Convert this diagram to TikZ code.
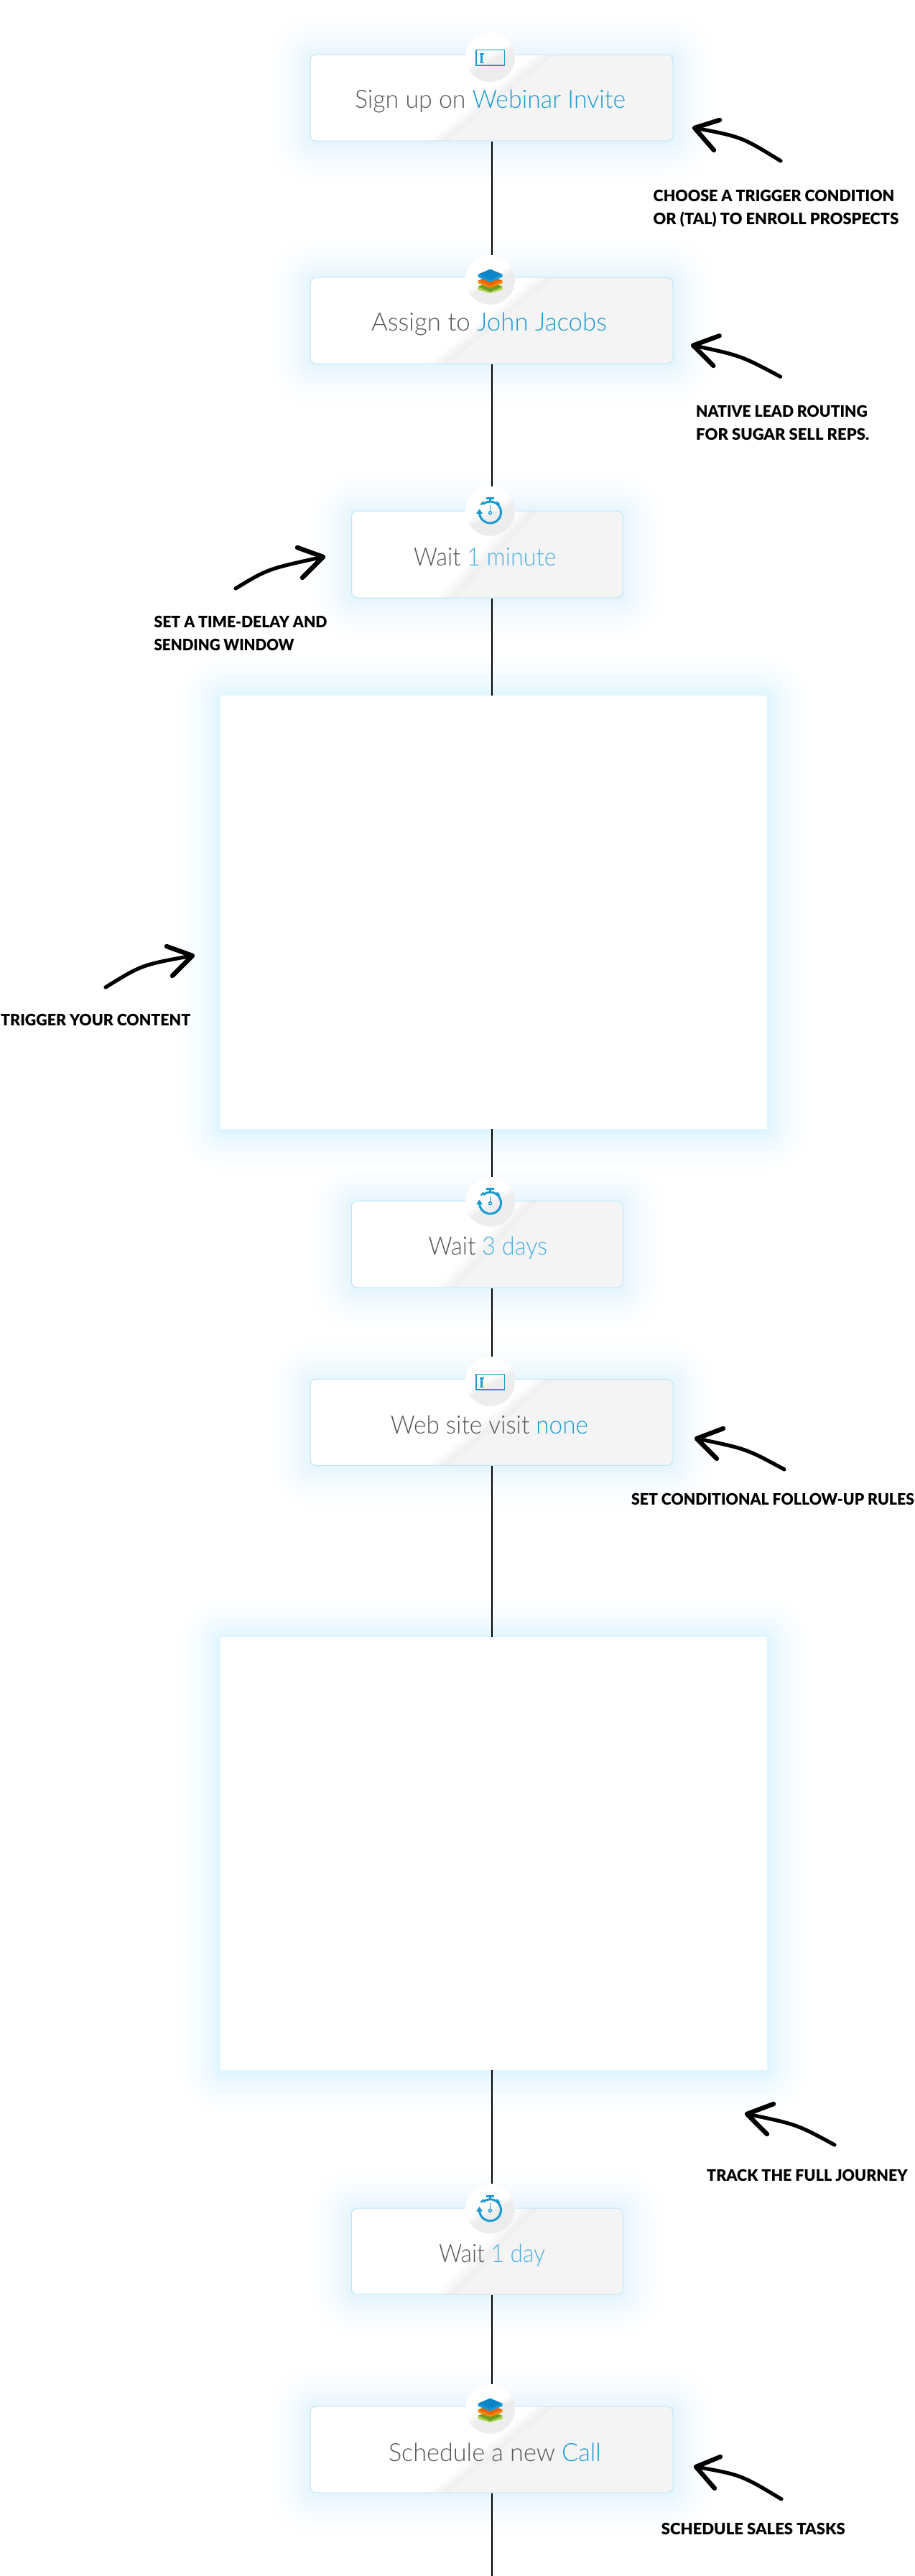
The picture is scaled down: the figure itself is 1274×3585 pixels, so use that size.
\documentclass[tikz,border=0pt]{standalone}
\usepackage{graphicx}
\usepackage{fontspec}
\newfontfamily\cardfont{Lato Light}
\newfontfamily\labelfont{Lato}[UprightFont=* Black]
\definecolor{cardline}{HTML}{BFE6F8}
\definecolor{cardgrey}{HTML}{F0F0F0}
\definecolor{discgrey}{HTML}{EDEDED}
\definecolor{cardflat}{HTML}{F4F4F4}
\definecolor{brand}{HTML}{1B9AD1}
\definecolor{softblue}{HTML}{4FB0DE}
\definecolor{ink}{HTML}{555555}
\definecolor{glowcard}{HTML}{E6F5FD}
\definecolor{glowbox}{HTML}{DFF5FF}
\definecolor{HTMLgreenA}{HTML}{6F9E20}
\definecolor{HTMLgreenB}{HTML}{A6D33A}
\definecolor{HTMLorangeA}{HTML}{E86500}
\definecolor{HTMLorangeB}{HTML}{FF8A00}
\definecolor{HTMLblueA}{HTML}{0A85C8}
\definecolor{HTMLblueB}{HTML}{0F9BE0}
\newcommand{\fitw}[2]{\resizebox{#1pt}{\height}{#2}}
\tikzset{
  x=1pt,y=-1pt,
  cardbox/.style={draw=cardline,line width=1pt,rounded corners=8pt,fill=white,inner sep=0pt,
    path picture={\begin{scope}[shift={(path picture bounding box.center)},sharp corners]
      \foreach \o/\m in {-14/15,-10/30,-6/50,-2/70,2/85,6/100}{
        \fill[cardgrey!\m!white] (\o-#1,60) -- (\o+#1,-60) -- (400,-60) -- (400,60) -- cycle;}
      \fill[cardflat] (14-#1,60) -- (14+#1,-60) -- (400,-60) -- (400,60) -- cycle;
    \end{scope}}},
  bigbox/.style={fill=white,inner sep=0pt,minimum width=761pt,minimum height=603pt},
  iconbg/.style={circle,inner sep=0pt,minimum size=69pt,fill=discgrey,
    path picture={\begin{scope}[shift={(path picture bounding box.center)}]
      \foreach \o/\m in {6/25,3/50,0/75,-3/100}{
        \fill[white!\m!discgrey] (-50,28+\o) -- (50,-28+\o) -- (50,-50) -- (-50,-50) -- cycle;}
    \end{scope}}},
  cardtext/.style={anchor=base,inner sep=0pt,text=ink,font=\cardfont\fontsize{35}{40}\selectfont},
  note/.style={anchor=base west,inner sep=0pt,text=black,font=\labelfont\fontsize{22}{26}\selectfont},
  spineline/.style={draw=black,line width=2pt},
  handstroke/.style={draw=black,line width=5.2pt,line cap=round,line join=round},
  handbarb/.style={draw=black,line width=6.4pt,line cap=round,line join=round},
  screenicon/.pic={
    \draw[brand,line width=1.9pt] (-19.5,-10) rectangle (20,11.5);
    \draw[brand,line width=2.6pt] (-12,-4.5) -- (-12,8);
    \draw[brand,line width=1.6pt] (-15,-4.5) -- (-9,-4.5) (-15,8) -- (-9,8);
  },
  stackicon/.pic={
    \fill[HTMLgreenB] (-17,10) -- (0,17.5) -- (17,10) -- (17,13.5) -- (0,18.5) -- (-17,13.5) -- cycle;
    \fill[HTMLgreenA] (-17,9.5) -- (0,2) -- (17,9.5) -- (0,17) -- cycle;
    \fill[HTMLorangeB] (-17,1) -- (0,8.5) -- (17,1) -- (17,4.5) -- (0,11) -- (-17,4.5) -- cycle;
    \fill[HTMLorangeA] (-17,1) -- (0,-6) -- (17,1) -- (0,8.5) -- cycle;
    \fill[HTMLblueB] (-17,-7.7) -- (0,0) -- (17,-7.7) -- (17,-4) -- (0,3) -- (-17,-4) -- cycle;
    \fill[HTMLblueA] (-17,-7.7) -- (0,-15) -- (17,-7.7) -- (0,0) -- cycle;
  },
  watchicon/.pic={
    \draw[brand,line width=3pt] (-15,1.7) arc[start angle=180,end angle=-130,radius=15];
    \draw[brand,line width=2.6pt] (-5.5,-17.8) -- (5.5,-17.8) (0,-17.8) -- (0,-13);
    \draw[brand,line width=2.4pt] (-13,-9) -- (-9,-13) (13,-9) -- (9,-13);
    \draw[brand,line width=1.4pt] (0,-8) -- (0,0);
    \draw[brand,line width=1.4pt] (0,2.3) circle[radius=2];
    \fill[brand] (-19.5,3.5) -- (-10.5,3.5) -- (-15,-3) -- cycle;
  },
}
\begin{document}
\begin{tikzpicture}
\useasboundingbox (0,0) rectangle (1274,3585);
\fill[white] (0,0) rectangle (1274,3585);
% glows: every level is laid over all boxes together, outermost first
\foreach \i in {1,...,40}{
  \pgfmathsetmacro{\ee}{82-2*\i}
  \pgfmathsetmacro{\pp}{100*(\i/40)^2.6}
  \foreach \xa/\ya/\xb/\yb/\cc in {432/76/937/196/glowcard,432/386/937/506/glowcard,489.5/711/867/832/glowcard,
     307/968/1068/1571/glowbox,489.5/1671.3/867.3/1792/glowcard,432/1919.3/937/2039.3/glowcard,
     307/2278/1068/2881/glowbox,489.5/3073/867/3193/glowcard,432/3349/937/3469/glowcard}{
    \fill[\cc!\pp!white,rounded corners={(\ee+6)*1pt}] (\xa-\ee,\ya-\ee+2) rectangle (\xb+\ee,\yb+\ee+2);
  }
}
% cards
\node[cardbox=74,minimum width=505pt,minimum height=120pt] (c1) at (684.5,136) {};
\node[cardbox=74,minimum width=505pt,minimum height=120pt] (c2) at (684.5,446) {};
\node[cardbox=57,minimum width=377.5pt,minimum height=121pt] (c3) at (678.25,771.5) {};
\node[bigbox] (b1) at (687.5,1269.5) {};
\node[cardbox=57,minimum width=378pt,minimum height=120.7pt] (c4) at (678.3,1731.65) {};
\node[cardbox=74,minimum width=505pt,minimum height=120pt] (c5) at (684.5,1979.3) {};
\node[bigbox] (b2) at (687.5,2579.5) {};
\node[cardbox=57,minimum width=378pt,minimum height=120pt] (c6) at (678.3,3133) {};
\node[cardbox=74,minimum width=505pt,minimum height=120pt] (c7) at (684.5,3409) {};
% icon discs
\node[iconbg] (i1) at (682.5,79.5) {};
\node[iconbg] (i2) at (682.5,389.5) {};
\node[iconbg] (i3) at (682.5,711.3) {};
\node[iconbg] (i4) at (682.5,1672.5) {};
\node[iconbg] (i5) at (682.5,1922.5) {};
\node[iconbg] (i6) at (682.5,3074) {};
\node[iconbg] (i7) at (682.5,3352.5) {};
\pic at (i1) {screenicon};
\pic at (i2) {stackicon};
\pic at (i3) {watchicon};
\pic at (i4) {watchicon};
\pic at (i5) {screenicon};
\pic at (i6) {watchicon};
\pic at (i7) {stackicon};
% connectors
\coordinate (spine) at (685,0);
\coordinate (tail) at (685,3585);
\draw[spineline] (c1.south -| spine) -- (i2.north -| spine);
\draw[spineline] (c2.south -| spine) -- (i3.north -| spine);
\draw[spineline] (c3.south -| spine) -- (b1.north -| spine);
\draw[spineline] (b1.south -| spine) -- (i4.north -| spine);
\draw[spineline] (c4.south -| spine) -- (i5.north -| spine);
\draw[spineline] (c5.south -| spine) -- (b2.north -| spine);
\draw[spineline] (b2.south -| spine) -- (i6.north -| spine);
\draw[spineline] (c6.south -| spine) -- (i7.north -| spine);
\draw[spineline] (c7.south -| spine) -- (tail);
% card texts
\node[cardtext] (t1) at (682.5,150) {\fitw{377}{Sign up on \textcolor{brand}{Webinar Invite}}};
\node[cardtext] (t2) at (681,460) {\fitw{328}{Assign to \textcolor{brand}{John Jacobs}}};
\node[cardtext] (t3) at (675.3,787) {\fitw{198.6}{Wait \textcolor{softblue}{1 minute}}};
\node[cardtext] (t4) at (679.5,1746.7) {\fitw{165.6}{Wait \textcolor{softblue}{3 days}}};
\node[cardtext] (t5) at (681.5,1995) {\fitw{275}{Web site visit \textcolor{brand}{none}}};
\node[cardtext] (t6) at (685,3148) {\fitw{148}{Wait \textcolor{softblue}{1 day}}};
\node[cardtext] (t7) at (689,3425) {\fitw{296}{Schedule a new \textcolor{brand}{Call}}};
% notes
\node[note] (n1a) at (909.5,280) {\fitw{335.5}{CHOOSE A TRIGGER CONDITION}};
\node[note] (n1b) at (909.5,312) {\fitw{341.5}{OR (TAL) TO ENROLL PROSPECTS}};
\node[note] (n2a) at (969,580) {\fitw{238.7}{NATIVE LEAD ROUTING}};
\node[note] (n2b) at (969,612) {\fitw{241}{FOR SUGAR SELL REPS.}};
\node[note] (n3a) at (214.4,873) {\fitw{241}{SET A TIME-DELAY AND}};
\node[note] (n3b) at (214.4,905.7) {\fitw{195}{SENDING WINDOW}};
\node[note] (n4) at (1,1427) {\fitw{264}{TRIGGER YOUR CONTENT}};
\node[note] (n5) at (879,2094) {\fitw{393.7}{SET CONDITIONAL FOLLOW-UP RULES}};
\node[note] (n6) at (984,3035) {\fitw{279.5}{TRACK THE FULL JOURNEY}};
\node[note] (n7) at (920.7,3527) {\fitw{256}{SCHEDULE SALES TASKS}};
% hand-drawn arrows
\draw[handstroke] (1087,224) .. controls (1032.3,190.3) .. (967,178);
\draw[handbarb] (1002,167) -- (967,178) -- (994,209);
\draw[handstroke] (1086.7,524.3) .. controls (1031.4,494.8) .. (965,480.7);
\draw[handbarb] (1001.7,467.3) -- (965,480.7) -- (993.3,509);
\draw[handstroke] (328,819) .. controls (373,791.7) .. (450,775);
\draw[handbarb] (414,762) -- (450,775) -- (421,804);
\draw[handstroke] (147,1374) .. controls (197.5,1342.7) .. (268,1330);
\draw[handbarb] (232,1317) -- (268,1330) -- (240,1358);
\draw[handstroke] (1092,2045) .. controls (1039,2016.2) .. (970,2002);
\draw[handbarb] (1007,1988) -- (970,2002) -- (998,2030);
\draw[handstroke] (1162,2985) .. controls (1109,2956.2) .. (1040,2942);
\draw[handbarb] (1077,2928) -- (1040,2942) -- (1068,2970);
\draw[handstroke] (1088,3478) .. controls (1031.8,3444.2) .. (969,3433);
\draw[handbarb] (1003,3419) -- (969,3433) -- (995,3463);
\end{tikzpicture}
\end{document}
